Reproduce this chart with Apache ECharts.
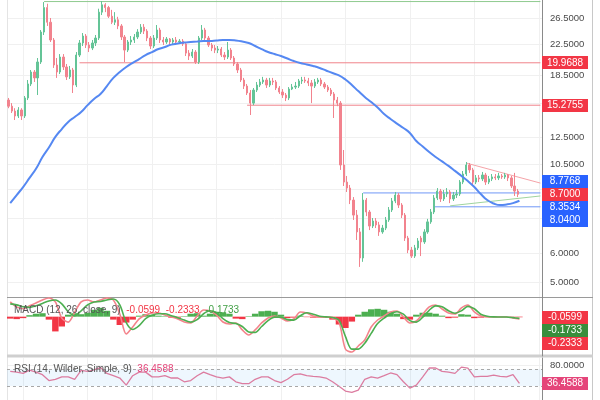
<!DOCTYPE html>
<html><head><meta charset="utf-8">
<script src="https://cdn.jsdelivr.net/npm/echarts@6/dist/echarts.min.js"></script>
<style>html,body{margin:0;padding:0;background:#fff}#c{width:600px;height:400px}</style>
</head><body><div id="c"></div>
<script>
// ---- price candles (one per bar) ----
const opens = [15.78,15.18,14.72,14.27,14.82,14.27,15.99,17.47,18.84,18.15,20.07,24.25,28.3,25.8,23.06,19.69,18.84,20.71,19.45,18.27,
19.08,17.35,20.97,22.63,23.65,22.34,21.92,22.63,23.35,27.5,28.8,28.3,26.8,25.8,26.2,25.2,23.5,21.64,22.77,23.06,
23.5,24.25,25.0,24.4,23.35,22.2,23.35,24.56,23.06,22.77,23.2,22.77,23.06,22.77,22.9,22.5,21.23,20.84,21.37,20.07,
23.35,24.56,23.35,22.34,21.92,21.64,21.78,20.97,20.71,21.64,20.58,19.82,19.08,17.91,17.24,16.5,15.48,16.81,17.35,17.69,
17.91,17.35,17.8,17.69,17.03,16.6,16.29,15.99,16.92,17.13,17.24,17.8,17.91,17.8,17.58,17.24,17.69,17.91,17.47,17.13,
16.81,16.4,15.78,15.48,10.47,9.40,9.05,8.39,7.63,6.86,5.82,8.39,7.78,7.12,7.35,7.17,6.86,7.03,7.40,7.88,
8.34,8.66,8.13,7.63,6.60,6.12,5.89,6.20,6.60,6.44,6.86,7.31,7.78,8.50,8.88,8.45,8.72,8.83,8.45,8.66,
8.72,9.40,9.89,10.47,10.15,9.40,9.65,9.59,9.83,9.40,9.59,9.71,9.65,9.77,9.71,9.83,9.65,9.17,8.88];
const closes = [15.18,14.72,14.27,14.82,14.27,15.99,17.47,18.84,18.15,20.07,24.25,28.3,25.8,23.06,19.69,18.84,20.71,19.45,18.27,19.08,
17.35,20.97,22.63,23.65,22.34,21.92,22.63,23.35,27.5,28.8,28.3,26.8,25.8,26.2,25.2,23.5,21.64,22.77,23.06,23.5,
24.25,25.0,24.4,23.35,22.2,23.35,24.56,23.06,22.77,23.2,22.77,23.06,22.77,22.9,22.5,21.23,20.84,21.37,20.07,23.35,
24.56,23.35,22.34,21.92,21.64,21.78,20.97,20.71,21.64,20.58,19.82,19.08,17.91,17.24,16.5,15.48,16.81,17.35,17.69,17.91,
17.35,17.8,17.69,17.03,16.6,16.29,15.99,16.92,17.13,17.24,17.8,17.91,17.8,17.58,17.24,17.69,17.91,17.47,17.13,16.81,
16.4,15.78,15.48,10.47,9.40,9.05,8.39,7.63,6.86,5.82,8.39,7.78,7.12,7.35,7.17,6.86,7.03,7.40,7.88,8.34,
8.66,8.13,7.63,6.60,6.12,5.89,6.20,6.48,6.44,6.86,7.31,7.78,8.50,8.88,8.45,8.72,8.83,8.45,8.66,8.72,
9.40,9.89,10.47,10.15,9.40,9.65,9.59,9.83,9.40,9.59,9.71,9.65,9.77,9.71,9.83,9.65,9.17,8.88,8.70];
const highs = [15.99,15.48,14.99,15.09,14.99,16.19,17.91,19.08,19.08,20.58,24.56,29.3,29.0,26.5,23.35,20.58,21.1,21.1,19.82,19.57,
19.33,21.37,23.06,24.1,23.95,22.77,23.06,23.8,28.1,29.5,29.1,28.6,27.9,27.5,26.7,25.5,23.8,23.06,23.65,23.95,
24.7,25.5,25.5,24.7,23.65,23.8,25.35,24.9,23.5,23.5,23.35,23.35,23.5,23.2,23.2,22.77,21.64,21.78,21.64,23.65,
25.35,24.9,23.65,22.63,22.34,22.2,22.06,21.37,22.77,21.92,20.84,20.07,19.33,18.15,17.47,16.81,17.03,17.69,18.03,18.27,
18.15,18.15,18.15,17.91,17.24,16.92,16.5,17.13,17.47,17.69,18.03,18.27,18.27,18.15,17.91,18.03,18.15,18.15,17.69,17.35,
17.03,16.6,16.09,15.68,11.51,9.77,9.23,8.55,7.88,7.03,8.77,8.50,7.88,7.49,7.49,7.31,7.17,7.54,8.03,8.50,
8.83,8.77,8.23,7.73,6.69,6.24,6.32,6.60,6.69,6.98,7.45,7.93,8.66,9.05,9.00,8.94,9.05,8.94,8.83,8.94,
9.52,10.08,10.67,10.60,10.28,9.83,9.83,10.02,9.96,9.77,9.89,9.89,9.96,9.89,9.96,9.89,9.77,9.96,9.00];
const lows = [14.99,14.54,13.91,14.09,13.91,14.09,15.78,17.24,17.69,16.29,19.82,23.8,25.2,22.77,19.33,18.15,18.6,19.08,17.91,18.03,
16.5,17.13,20.71,22.2,21.92,21.37,21.64,22.2,23.06,27.0,27.5,26.5,25.5,25.35,24.7,23.06,20.07,21.37,22.34,22.63,
23.2,23.95,23.95,22.9,21.78,21.92,23.06,22.63,22.34,22.5,22.34,22.5,22.34,22.5,22.2,20.84,20.32,20.58,19.82,19.82,
23.06,23.06,22.06,21.5,21.23,21.23,20.71,20.32,20.45,20.32,19.57,18.72,17.69,16.92,16.29,14.36,15.28,16.6,17.13,17.47,
17.03,17.13,17.35,16.81,16.4,15.99,15.68,15.78,16.81,16.92,17.03,17.47,17.58,17.24,15.48,17.03,17.47,17.24,16.92,16.6,
16.19,14.09,15.18,10.15,9.17,8.83,8.18,7.40,6.52,5.50,5.68,7.58,6.94,7.03,7.03,6.69,6.78,6.94,7.31,7.78,
8.23,7.98,7.49,6.48,6.00,5.82,5.82,6.12,5.89,6.36,6.78,7.22,7.68,8.39,8.29,8.34,8.55,8.23,8.34,8.50,
8.61,9.28,9.77,9.96,9.23,9.28,9.40,9.46,9.23,9.28,9.46,9.52,9.52,9.59,9.59,9.46,9.05,8.61,8.55];

// ---- indicators (one point per two bars) ----
const maValues = [8.23,8.66,9.11,9.65,10.22,11.01,11.7,12.5,13.14,13.74,14.18,14.63,15.28,15.89,16.4,17.24,18.15,18.84,19.45,19.97,
20.45,20.97,21.37,21.78,22.06,22.4,22.55,22.7,22.77,22.84,22.92,22.92,22.99,23.06,23.06,22.99,22.84,22.63,22.2,21.78,
21.37,21.1,20.84,20.51,20.19,19.94,19.76,19.57,19.33,19.02,18.72,18.44,17.97,17.35,16.7,16.09,15.58,15.05,14.45,14.0,
13.6,13.23,12.82,12.18,11.77,11.36,11.01,10.71,10.41,10.09,9.77,9.46,9.11,8.72,8.39,8.21,8.13,8.16,8.23,8.3534];
const macdLine = [1.5,1.0,0.8,1.1,1.4,1.7,1.9,1.5,-0.15,-0.55,0.45,1.5,1.7,1.5,1.7,1.9,1.7,0.27,-1.76,-1.05,
-0.23,0.17,0.38,0.38,0.17,-0.03,-0.23,-0.54,-0.64,0.07,0.68,0.58,0.17,-0.54,-0.74,-0.64,-1.35,-1.86,-1.35,-0.64,
-0.13,0.07,-0.13,-0.44,-0.23,0.48,0.38,0.07,-0.03,-0.03,-0.13,-0.54,-3.29,-3.59,-2.98,-2.37,-1.05,-0.34,0.07,0.48,
0.58,-0.03,-0.64,-0.44,0.27,0.99,1.19,0.78,0.38,0.27,0.89,1.19,0.48,0.07,-0.03,-0.03,-0.03,-0.03,-0.13,-0.2333];
const signalLine = [1.3,1.2,1.0,0.95,1.1,1.35,1.6,1.7,1.3,0.5,0.1,0.6,1.2,1.5,1.55,1.7,1.8,1.2,-0.6,-1.3,
-0.9,-0.2,0.15,0.3,0.3,0.1,-0.1,-0.35,-0.55,-0.3,0.3,0.6,0.4,-0.2,-0.6,-0.7,-1.0,-1.55,-1.6,-1.0,
-0.4,-0.05,-0.05,-0.3,-0.35,0.1,0.4,0.25,0.05,-0.02,-0.08,-0.35,-2.0,-3.3,-3.3,-2.7,-1.7,-0.7,-0.15,0.3,
0.5,0.25,-0.4,-0.55,-0.05,0.65,1.1,1.0,0.6,0.35,0.6,1.05,0.8,0.25,0.05,-0.02,-0.03,-0.04,-0.1,-0.1733];
const histValues = [-0.2,-0.25,-0.15,0.15,0.3,0.35,-0.3,-1.5,-1.0,0.2,0.35,0.25,0.4,0.7,0.9,0.6,-0.3,-0.85,-0.6,-0.3,
0.1,0.25,0.2,0.1,0.05,-0.1,-0.1,0.05,0.3,0.35,0.1,0.3,0.5,0.45,0.3,-0.2,-0.25,0.05,0.3,0.55,
0.6,0.5,0.2,-0.15,-0.1,0.1,-0.05,-0.1,-0.08,-0.1,-0.3,-0.8,-1.15,-0.5,0.2,0.5,0.75,0.8,0.7,0.5,
0.3,-0.25,-0.3,0.2,0.4,0.4,0.3,0.1,-0.15,-0.1,0.25,0.2,-0.15,-0.1,0.05,0.03,0.02,0.02,-0.03,-0.0599];
const rsiValues = [65,62.8,60,67.8,63,57,43,46,51.7,51.7,46,67,65,68.3,74,60,54.5,49,32,54.5,
63,63,51.7,51.7,54.5,49,49,40,43,54.5,63,57,51.7,49,51.7,40,35.5,35.5,46,51.7,
51.7,43,38,46,57,58.7,54.5,52.8,51.7,49,40,29.5,18,15,20,46,51.7,49,54.5,61,
57,40,25,32,51.7,72.8,72.8,65,63,60,75,72.8,51.7,52.8,52.8,56,52.8,51.7,57,36.4588];

// ---- axis ticks and drawn levels ----
const priceTicks = [26.5,22.5,18.5,15.5,12.5,10.5,9,7.5,6,5];
const priceTickLabels = [26.5,22.5,18.5,12.5,10.5,6,5];
const rsiTicks = [80];
const rsiBands = [70,30];
const levelStarts = [11,22,74,110,132];
const levelValues = [29.4,19.9688,15.2755,8.7768,8.04];
const trendRed = [[142,10.6],[165,9.34]];
const trendGreen = [[137,8.09],[165,8.61]];

const RED='#f23645', BLUE='#2962ff', GREEN='#43a047';
const levelColors = ['#8fca8f','#f0838b','#f0838b','#6f98f7','#6f98f7'];
const N = 166, NI = 83, LAST = N - 1;
const cats = Array.from({length:N},(_,i)=>String(i));
const catsI = Array.from({length:NI},(_,i)=>String(i));
const candleData = opens.map((o,i)=>[o,closes[i],lows[i],highs[i]]);
const FONT = '"Liberation Sans", Arial, sans-serif';

const vSplit = {show:true, interval:(idx)=>idx%20===5, lineStyle:{color:'#f0f0f0',width:1}};
function catAxis(grid, data, withSplit){
  return {type:'category', gridIndex:grid, data:data, boundaryGap:true, show:true,
    axisLine:{show:false}, axisTick:{show:false}, axisLabel:{show:false},
    splitLine: withSplit ? vSplit : {show:false}};
}
function segSeries(p0, p1, color){
  return {type:'line', xAxisIndex:0, yAxisIndex:0, data:[p0, p1], showSymbol:false, symbol:'none', silent:true,
    lineStyle:{color:color, width:1}, z:3};
}
const levelSeries = levelStarts.map((s,k)=>segSeries([s, levelValues[k]], [LAST, levelValues[k]], levelColors[k]));
levelSeries.push(segSeries(trendRed[0], trendRed[1], '#f5a3a8'));
levelSeries.push(segSeries(trendGreen[0], trendGreen[1], '#9fd49f'));

const chart = echarts.init(document.getElementById('c'), null, {width:600,height:400});
chart.setOption({
  animation:false,
  backgroundColor:'#fff',
  textStyle:{fontFamily:FONT},
  grid:[
    {left:7,right:58,top:0,height:297},
    {left:7,right:58,top:297,height:59},
    {left:7,right:58,top:358,height:60}
  ],
  xAxis:[
    catAxis(0,cats,true), Object.assign(catAxis(0,catsI,false),{show:false}),
    catAxis(1,cats,true), Object.assign(catAxis(1,catsI,false),{show:false}),
    catAxis(2,cats,true), Object.assign(catAxis(2,catsI,false),{show:false})
  ],
  yAxis:[
    {type:'log', gridIndex:0, position:'right', min:4.548, max:29.69,
     axisLine:{show:true,lineStyle:{color:'#8a8a8a'}},
     axisTick:{show:false, customValues:priceTicks},
     axisLabel:{customValues:priceTickLabels, formatter:(v)=>Number(v).toFixed(4), color:'#4a4a4a', fontSize:9.5, margin:8, fontFamily:FONT},
     splitLine:{show:true,lineStyle:{color:'#f0f0f0'}}},
    {type:'value', gridIndex:1, position:'right', min:-4, max:2,
     axisLine:{show:true,lineStyle:{color:'#8a8a8a'}}, axisTick:{show:false}, axisLabel:{show:false}, splitLine:{show:false}},
    {type:'value', gridIndex:2, position:'right', min:-3.333, max:96.667,
     axisLine:{show:true,lineStyle:{color:'#8a8a8a'}},
     axisTick:{show:false, customValues:rsiTicks},
     axisLabel:{customValues:rsiTicks, formatter:(v)=>Number(v).toFixed(4), color:'#4a4a4a', fontSize:9.5, margin:8, fontFamily:FONT},
     splitLine:{show:true,lineStyle:{color:'#f0f0f0'}}}
  ],
  series:[
    {type:'candlestick', xAxisIndex:0, yAxisIndex:0, data:candleData, barWidth:'55%', z:4,
     itemStyle:{color:'#64c497', color0:'#f2838e', borderColor:'#64c497', borderColor0:'#f2838e', borderWidth:1}},
    {type:'line', xAxisIndex:1, yAxisIndex:0, data:maValues, smooth:true, showSymbol:false, z:5,
     lineStyle:{color:'#5588f2', width:2}},
    ...levelSeries,
    {type:'bar', xAxisIndex:3, yAxisIndex:1, data:histValues.map(v=>v>=0?v:'-'), barWidth:'100%', barGap:'-100%',
     itemStyle:{color:'#4caf50'}},
    {type:'bar', xAxisIndex:3, yAxisIndex:1, data:histValues.map(v=>v<0?v:'-'), barWidth:'100%', barGap:'-100%',
     itemStyle:{color:'#f23645'}},
    {type:'line', xAxisIndex:3, yAxisIndex:1, data:macdLine, showSymbol:false, smooth:0.3,
     lineStyle:{color:'#f4838b', width:1.6}},
    {type:'line', xAxisIndex:3, yAxisIndex:1, data:signalLine, showSymbol:false, smooth:0.3,
     lineStyle:{color:'#4caf50', width:1.6}},
    {type:'line', xAxisIndex:5, yAxisIndex:2, data:rsiValues, showSymbol:false,
     lineStyle:{color:'#dc7ca0', width:1.3},
     markArea:{silent:true, itemStyle:{color:'rgba(33,150,243,0.08)'}, data:[[{yAxis:rsiBands[0]},{yAxis:rsiBands[1]}]]},
     markLine:{silent:true, symbol:['none','none'], label:{show:false},
       lineStyle:{color:'#a8a8a8', type:[3,3], width:1}, data:rsiBands.map(v=>({yAxis:v}))}}
  ]
});

// ---- price tags & legends (positions derived from the axes) ----
function yPix(ax,v){ return chart.convertToPixel({yAxisIndex:ax}, v); }
const fmt = v => v.toFixed(4);
const lastClose = closes[closes.length-1];
const lastMA = maValues[maValues.length-1];
const yClose = yPix(0,lastClose);
const tags = [
  {y:yPix(0,levelValues[1]), t:fmt(levelValues[1]), c:RED},
  {y:yPix(0,levelValues[2]), t:fmt(levelValues[2]), c:RED},
  {y:yClose-13, t:fmt(levelValues[3]), c:BLUE},
  {y:yClose, t:fmt(lastClose), c:RED},
  {y:yClose+13, t:fmt(lastMA), c:BLUE},
  {y:yClose+26, t:fmt(levelValues[4]), c:BLUE}
];
const hLast = histValues[histValues.length-1], mLast = macdLine[macdLine.length-1], sLast = signalLine[signalLine.length-1];
const yHist = yPix(1,hLast);
tags.push({y:yHist, t:fmt(hLast), c:RED});
tags.push({y:yHist+13, t:fmt(sLast), c:'#388e3c'});
tags.push({y:yHist+26, t:fmt(mLast), c:RED});
const rLast = rsiValues[rsiValues.length-1];
tags.push({y:yPix(2,rLast), t:fmt(rLast), c:'#e5457a'});

const graphics = [];
graphics.push({type:'line', shape:{x1:7.5,y1:0,x2:7.5,y2:400}, style:{stroke:'#e4e4e4',lineWidth:1}, silent:true});
graphics.push({type:'line', shape:{x1:592.5,y1:0,x2:592.5,y2:400}, style:{stroke:'#c8c8c8',lineWidth:1}, silent:true});
graphics.push({type:'line', shape:{x1:7,y1:297.5,x2:593,y2:297.5}, style:{stroke:'#9a9a9a',lineWidth:1}, silent:true});
graphics.push({type:'rect', shape:{x:7,y:354.5,width:586,height:3}, style:{fill:'#cfcfcf'}, silent:true});
tags.forEach(tg=>{
  graphics.push({type:'rect', shape:{x:542,y:Math.round(tg.y-6.5),width:46,height:13}, style:{fill:tg.c}, silent:true, z:10});
  graphics.push({type:'text', x:565, y:Math.round(tg.y)+0.5, silent:true, z:11,
    style:{text:tg.t, fill:'#fff', font:'10px '+FONT, align:'center', verticalAlign:'middle'}});
});
graphics.push({type:'text', x:14, y:310, silent:true, z:12,
  style:{text:'{a|MACD (12, 26, close, 9)}  {r|'+fmt(hLast)+'}  {r|'+fmt(mLast)+'}  {g|'+fmt(sLast)+'}',
    verticalAlign:'middle', font:'10px '+FONT,
    rich:{a:{fill:'#555',font:'10px '+FONT}, r:{fill:RED,font:'10px '+FONT}, g:{fill:GREEN,font:'10px '+FONT}}}});
graphics.push({type:'text', x:14, y:369, silent:true, z:12,
  style:{text:'{a|RSI (14, Wilder, Simple, 9)}  {r|'+fmt(rLast)+'}', verticalAlign:'middle', font:'10px '+FONT,
    rich:{a:{fill:'#555',font:'10px '+FONT}, r:{fill:'#e5457a',font:'10px '+FONT}}}});
chart.setOption({graphic:graphics});
</script></body></html>
